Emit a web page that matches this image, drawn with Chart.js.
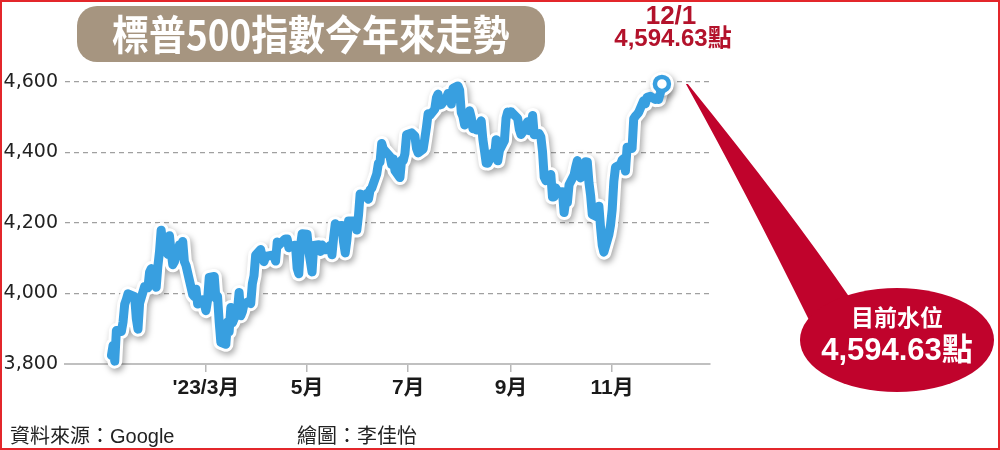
<!DOCTYPE html>
<html lang="zh-Hant">
<head>
<meta charset="utf-8">
<script src="https://cdn.jsdelivr.net/npm/chart.js@4.4.0/dist/chart.umd.min.js"></script>
<style>
html, body { margin: 0; padding: 0; background: #fff; }
#wrap { position: relative; width: 1000px; height: 450px; overflow: hidden;
        font-family: "Liberation Sans", "Noto Sans CJK TC", sans-serif; }
#myChart { position: absolute; left: 0; top: 0; }
.txt { position: absolute; white-space: nowrap; line-height: 1; }
#titleBox { position: absolute; left: 77px; top: 6px; width: 468px; height: 56px;
            border-radius: 20px; background: #a69580; }
#title { left: 77px; top: 12px; width: 468px; text-align: center; color: #fff;
         font-family: "Noto Sans CJK TC", sans-serif; font-weight: bold; font-size: 41px; }
#title span { display: inline-block; transform: scaleX(0.9); }
.red { color: #b3122b; font-weight: bold; text-align: center; width: 200px; }
.white { color: #fff; font-weight: bold; text-align: center; width: 200px; }
.foot { color: #222; font-size: 20px; }
#frame { position: absolute; left: 0; top: 0; width: 1000px; height: 450px; box-sizing: border-box;
         border: 2px solid #e3262b; pointer-events: none; }
</style>
</head>
<body>
<div id="wrap">
  <canvas id="myChart" width="1000" height="450"></canvas>
  <div id="titleBox"></div>
  <div class="txt" id="title"><span>標普500指數今年來走勢</span></div>
  <div class="txt red" style="left:571px; top:2px; font-size:26px;">12/1</div>
  <div class="txt red" style="left:573px; top:26px; font-size:24px;">4,594.63點</div>
  <div class="txt white" style="left:797px; top:307px; font-size:23px;">目前水位</div>
  <div class="txt white" style="left:797px; top:334px; font-size:31px;">4,594.63點</div>
  <div class="txt foot" style="left:10px; top:426px;">資料來源：Google</div>
  <div class="txt foot" style="left:297px; top:426px;">繪圖：李佳怡</div>
  <div id="frame"></div>
</div>
<script>
"use strict"

// TRADING DAYS (2023, M/D) AND S&P 500 CLOSES
const dates = [
  "1/3","1/4","1/5","1/6","1/9","1/10","1/11","1/12","1/13","1/17","1/18","1/19","1/20","1/23","1/24","1/25","1/26","1/27","1/30","1/31",
  "2/1","2/2","2/3","2/6","2/7","2/8","2/9","2/10","2/13","2/14","2/15","2/16","2/17","2/21","2/22","2/23","2/24","2/27","2/28",
  "3/1","3/2","3/3","3/6","3/7","3/8","3/9","3/10","3/13","3/14","3/15","3/16","3/17","3/20","3/21","3/22","3/23","3/24","3/27","3/28","3/29","3/30","3/31",
  "4/3","4/4","4/5","4/6","4/10","4/11","4/12","4/13","4/14","4/17","4/18","4/19","4/20","4/21","4/24","4/25","4/26","4/27","4/28",
  "5/1","5/2","5/3","5/4","5/5","5/8","5/9","5/10","5/11","5/12","5/15","5/16","5/17","5/18","5/19","5/22","5/23","5/24","5/25","5/26","5/30","5/31",
  "6/1","6/2","6/5","6/6","6/7","6/8","6/9","6/12","6/13","6/14","6/15","6/16","6/20","6/21","6/22","6/23","6/26","6/27","6/28","6/29","6/30",
  "7/3","7/5","7/6","7/7","7/10","7/11","7/12","7/13","7/14","7/17","7/18","7/19","7/20","7/21","7/24","7/25","7/26","7/27","7/28","7/31",
  "8/1","8/2","8/3","8/4","8/7","8/8","8/9","8/10","8/11","8/14","8/15","8/16","8/17","8/18","8/21","8/22","8/23","8/24","8/25","8/28","8/29","8/30","8/31",
  "9/1","9/5","9/6","9/7","9/8","9/11","9/12","9/13","9/14","9/15","9/18","9/19","9/20","9/21","9/22","9/25","9/26","9/27","9/28","9/29",
  "10/2","10/3","10/4","10/5","10/6","10/9","10/10","10/11","10/12","10/13","10/16","10/17","10/18","10/19","10/20","10/23","10/24","10/25","10/26","10/27","10/30","10/31",
  "11/1","11/2","11/3","11/6","11/7","11/8","11/9","11/10","11/13","11/14","11/15","11/16","11/17","11/20","11/21","11/22","11/24","11/27","11/28","11/29","11/30",
  "12/1"
];
const closes = [
  3824.14,3852.97,3808.10,3895.08,3892.09,3919.25,3969.61,3983.17,3999.09,3990.97,3928.86,3898.85,3972.61,4019.81,4016.95,4016.22,4060.43,4070.56,4017.77,4076.60,
  4119.21,4179.76,4136.48,4111.08,4164.00,4117.86,4081.50,4090.46,4137.29,4136.13,4147.60,4090.41,4079.09,3997.34,3991.05,4012.32,3970.04,3982.24,3970.15,
  3951.39,3981.35,4045.64,4048.42,3986.37,3992.01,3918.32,3861.59,3855.76,3919.29,3891.93,3960.28,3916.64,3951.57,4002.87,3936.97,3948.72,3970.99,3977.53,3971.27,4027.81,4050.83,4109.31,
  4124.51,4100.60,4090.38,4105.02,4109.11,4108.94,4091.95,4146.22,4137.64,4151.32,4154.87,4154.52,4129.79,4133.52,4137.04,4071.63,4055.99,4135.35,4169.48,
  4167.87,4119.58,4090.75,4061.22,4136.25,4138.12,4119.17,4137.64,4130.62,4124.08,4136.28,4109.90,4158.77,4198.05,4191.98,4192.63,4145.58,4115.24,4151.28,4205.45,4205.52,4179.83,
  4221.02,4282.37,4273.79,4283.85,4267.52,4293.93,4298.86,4338.93,4369.01,4372.59,4425.84,4409.59,4388.71,4365.69,4381.89,4348.33,4328.82,4378.41,4376.86,4396.44,4450.38,
  4455.59,4446.82,4411.59,4398.95,4409.53,4439.26,4472.16,4510.04,4505.42,4522.79,4554.98,4565.72,4534.87,4536.34,4554.64,4567.46,4566.75,4537.41,4582.23,4588.96,
  4576.73,4513.39,4501.89,4478.03,4518.44,4499.38,4467.71,4468.83,4464.05,4489.72,4437.86,4404.33,4370.36,4369.71,4399.77,4387.55,4436.01,4376.31,4405.71,4433.31,4497.63,4514.87,4507.66,
  4515.77,4496.83,4465.48,4451.14,4457.49,4487.46,4461.90,4467.44,4505.10,4450.32,4453.53,4443.95,4402.20,4330.00,4320.06,4337.44,4273.53,4274.51,4299.70,4288.05,
  4288.39,4229.45,4263.75,4258.19,4308.50,4335.66,4358.24,4376.95,4349.61,4327.78,4373.63,4373.20,4314.60,4278.00,4224.16,4217.04,4247.68,4186.77,4137.23,4117.37,4166.82,4193.80,
  4237.86,4317.78,4358.34,4365.98,4378.38,4382.78,4347.35,4415.24,4411.55,4495.70,4502.88,4508.24,4514.02,4547.38,4538.19,4556.62,4559.34,4550.43,4554.89,4550.58,4567.80,
  4594.63
];

// X AXIS TICKS
const tickDates = ["3/1", "5/1", "7/1", "9/1", "11/1"];
const tickLabels = ["'23/3月", "5月", "7月", "9月", "11月"];

// Y AXIS
const yMin = 3800, yMax = 4600, yStep = 200;

// day of year, Jan 1 = 0
function dayOfYear(md) {
    const [m, d] = md.split("/").map(Number);
    return (Date.UTC(2023, m - 1, d) - Date.UTC(2023, 0, 1)) / 86400000;
}

const points = dates.map((d, i) => ({ x: dayOfYear(d), y: closes[i] }));
const tickDays = tickDates.map(dayOfYear);
const last = points.length - 1;
const outerRadius = points.map((p, i) => i === last ? 12 : 0);
const innerRadius = points.map((p, i) => i === last ? 7 : 0);

const BLUE = '#389fe0';

// drop shadow under the white halo
const shadowPlugin = {
    id: 'shadow',
    beforeDatasetDraw(chart, args) {
        if (args.index !== 0) return;
        const c = chart.ctx;
        c.save();
        c.shadowColor = 'rgba(0,0,0,0.35)';
        c.shadowBlur = 6;
        c.shadowOffsetX = 2;
        c.shadowOffsetY = 3;
    },
    afterDatasetDraw(chart, args) {
        if (args.index === 0) chart.ctx.restore();
    }
};

// red speech bubble pointing at the last point
const calloutPlugin = {
    id: 'callout',
    afterDraw(chart) {
        const c = chart.ctx;
        const tip = chart.getDatasetMeta(1).data[last];
        c.save();
        c.fillStyle = '#c0032c';
        c.beginPath();
        c.moveTo(tip.x + 26, tip.y);
        c.quadraticCurveTo(790, 210, 850, 298);
        c.lineTo(810, 322);
        c.quadraticCurveTo(745, 190, tip.x + 24, tip.y);
        c.closePath();
        c.fill();
        c.beginPath();
        c.ellipse(897, 340, 97, 52, 0, 0, Math.PI * 2);
        c.fill();
        c.restore();
    }
};

const config = {
    type: 'line',
    data: {
        datasets: [{
            label: 'halo',
            data: points,
            borderColor: '#fff',
            borderWidth: 15,
            borderJoinStyle: 'round',
            borderCapStyle: 'round',
            pointRadius: outerRadius,
            pointBackgroundColor: '#fff',
            pointBorderWidth: 0,
            clip: false,
            order: 2
        }, {
            label: '標普500指數',
            data: points,
            borderColor: BLUE,
            borderWidth: 9,
            borderJoinStyle: 'round',
            borderCapStyle: 'round',
            pointRadius: innerRadius,
            pointBackgroundColor: '#fff',
            pointBorderColor: BLUE,
            pointBorderWidth: 4.5,
            clip: false,
            order: 1
        }]
    },
    options: {
        responsive: false,
        animation: false,
        events: [],
        layout: { padding: { top: 82, right: 290, bottom: 0, left: 0 } },
        plugins: { legend: { display: false }, tooltip: { enabled: false } },
        scales: {
            x: {
                type: 'linear',
                min: -26,
                max: 363,
                afterBuildTicks: (s) => { s.ticks = tickDays.map(v => ({ value: v })); },
                afterFit: (s) => { s.height = 86; },
                grid: { drawOnChartArea: false, drawTicks: true, tickLength: 8, color: '#b8b8b8', lineWidth: 1.5 },
                border: { display: true, color: '#c0c0c0', width: 2 },
                ticks: {
                    autoSkip: false,
                    maxRotation: 0,
                    padding: 4,
                    color: '#1a1a1a',
                    font: { family: "'Liberation Sans', 'Noto Sans CJK TC'", size: 21, weight: 'bold' },
                    callback: (v) => tickLabels[tickDays.indexOf(v)]
                }
            },
            y: {
                min: yMin,
                max: yMax,
                afterFit: (s) => { s.width = 65; },
                grid: { color: '#a0a0a0', lineWidth: 1.2, drawTicks: false },
                border: { display: false, dash: [5, 4] },
                ticks: {
                    stepSize: yStep,
                    padding: 7,
                    color: '#222',
                    font: { family: "'DejaVu Sans'", size: 19 },
                    callback: (v) => v.toLocaleString('en-US')
                }
            }
        }
    },
    plugins: [shadowPlugin, calloutPlugin]
};

const myChart = new Chart(document.getElementById('myChart'), config);
</script>
</body>
</html>
